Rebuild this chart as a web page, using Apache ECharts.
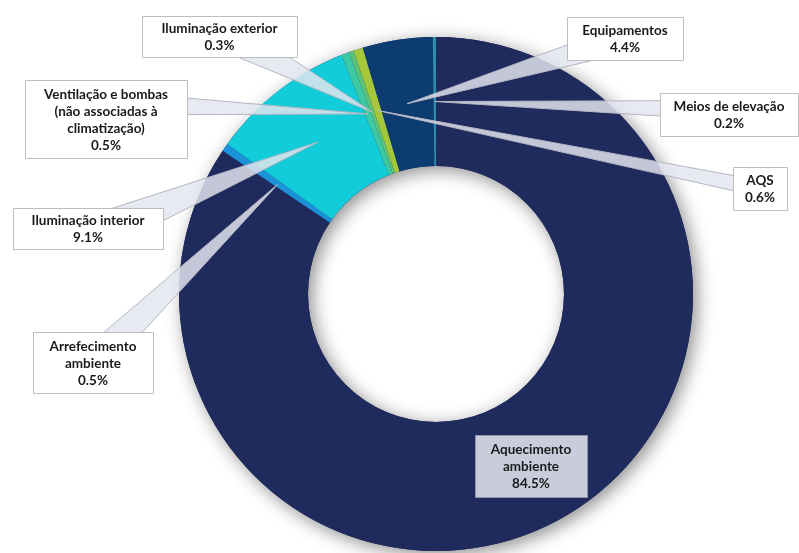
<!DOCTYPE html>
<html>
<head>
<meta charset="utf-8">
<script src="https://cdn.jsdelivr.net/npm/echarts@6/dist/echarts.min.js"></script>
<style>
  html, body { margin: 0; padding: 0; background: #ffffff; }
  #chart { width: 799px; height: 553px; }
</style>
</head>
<body>
<div id="chart"></div>
<script>
// Energy use shares by end use (%)
const categories = [
  'Aquecimento ambiente',
  'Arrefecimento ambiente',
  'Iluminação interior',
  'Ventilação e bombas (não associadas à climatização)',
  'Iluminação exterior',
  'AQS',
  'Equipamentos',
  'Meios de elevação'
];
const shares = [84.5, 0.5, 9.1, 0.5, 0.3, 0.6, 4.4, 0.2];

// Category names split into the lines shown in each callout box
const labelLines = [
  ['Aquecimento', 'ambiente'],
  ['Arrefecimento', 'ambiente'],
  ['Iluminação interior'],
  ['Ventilação e bombas', '(não associadas à', 'climatização)'],
  ['Iluminação exterior'],
  ['AQS'],
  ['Equipamentos'],
  ['Meios de elevação']
];

const sliceColors = ['#1f2a5d', '#1c93d8', '#12cdd9', '#3cc9a4', '#5cc47a', '#a5c83b', '#0d3c71', '#2b8fa8'];

// Callout box placement (x, y, width, height), wedge base half-width and base offset
const calloutBoxes = [
  { x: 475, y: 435, w: 112, h: 62, wedge: 0, fill: '#c9ccda', stroke: '#8e93a8' },
  { x: 33, y: 332, w: 120, h: 61, wedge: 16, off: [0, 0] },
  { x: 13, y: 208, w: 150, h: 41, wedge: 18, off: [20, 0] },
  { x: 25, y: 80, w: 162, h: 78, wedge: 12, off: [0, -16] },
  { x: 142, y: 16, w: 155, h: 41, wedge: 16, off: [10, 0] },
  { x: 733, y: 167, w: 54, h: 43, wedge: 8, off: [0, 0] },
  { x: 567, y: 17, w: 116, h: 43, wedge: 14, off: [0, 0] },
  { x: 660, y: 93, w: 138, h: 43, wedge: 10, off: [0, -4] }
];

const chart = echarts.init(document.getElementById('chart'), null, { renderer: 'canvas' });

const CENTER = [436, 294];
const RADIUS = [128, 257];

const total = shares.reduce((a, b) => a + b, 0);

chart.setOption({
  animation: false,
  backgroundColor: '#ffffff',
  series: [
    {
      // ring underneath that only carries the drop shadow
      type: 'pie',
      silent: true,
      center: CENTER,
      radius: RADIUS,
      startAngle: 90,
      label: { show: false },
      labelLine: { show: false },
      itemStyle: {
        color: sliceColors[0],
        shadowBlur: 18,
        shadowOffsetX: 4,
        shadowOffsetY: 4,
        shadowColor: 'rgba(0,0,0,0.45)'
      },
      data: [{ value: total, name: 'total' }],
      z: 1
    },
    {
      type: 'pie',
      silent: true,
      center: CENTER,
      radius: RADIUS,
      startAngle: 90,
      clockwise: true,
      avoidLabelOverlap: false,
      minAngle: 0,
      label: { show: false },
      labelLine: { show: false },
      itemStyle: { borderWidth: 0 },
      data: categories.map((name, i) => ({
        name: name,
        value: shares[i],
        itemStyle: { color: sliceColors[i] }
      })),
      z: 2
    }
  ]
});

// Wedge callouts: apex sits at the middle of each slice, boxes are drawn on top
function buildCallouts() {
  const data = chart.getModel().getSeriesByIndex(1).getData();
  const els = [];
  categories.forEach((name, i) => {
    const lay = data.getItemLayout(i);
    const mid = (lay.startAngle + lay.endAngle) / 2;
    const rm = (lay.r + lay.r0) / 2;
    const ax = lay.cx + rm * Math.cos(mid);
    const ay = lay.cy + rm * Math.sin(mid);
    const b = calloutBoxes[i];
    const bx = b.x + b.w / 2;
    const by = b.y + b.h / 2;
    if (b.wedge > 0) {
      const px = bx + b.off[0], py = by + b.off[1];
      const dx = px - ax, dy = py - ay;
      const len = Math.sqrt(dx * dx + dy * dy);
      const nx = -dy / len, ny = dx / len;
      els.push({
        type: 'polygon',
        z: 10,
        silent: true,
        shape: {
          points: [
            [ax, ay],
            [px + nx * b.wedge, py + ny * b.wedge],
            [px - nx * b.wedge, py - ny * b.wedge]
          ]
        },
        style: { fill: 'rgba(228,230,238,0.84)', stroke: '#b3b6c3', lineWidth: 1 }
      });
    }
    els.push({
      type: 'rect',
      z: 11,
      silent: true,
      shape: { x: b.x + 0.5, y: b.y + 0.5, width: b.w, height: b.h },
      style: { fill: b.fill || '#ffffff', stroke: b.stroke || '#bdbdbd', lineWidth: 1 }
    });
    const text = labelLines[i].concat([shares[i].toFixed(1) + '%']).join('\n');
    els.push({
      type: 'text',
      z: 12,
      silent: true,
      style: {
        x: bx,
        y: by + 1,
        text: text,
        align: 'center',
        verticalAlign: 'middle',
        font: 'bold 13.5px Lato, "Open Sans", sans-serif',
        lineHeight: 17,
        fill: '#1a1a1a'
      }
    });
  });
  chart.setOption({ graphic: { elements: els } });
}

buildCallouts();
</script>
</body>
</html>
